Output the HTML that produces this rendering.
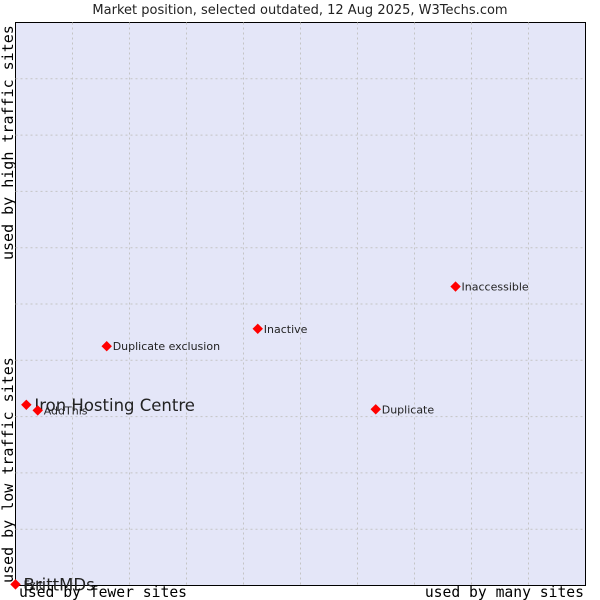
<!DOCTYPE html>
<html><head><meta charset="utf-8"><style>
body{margin:0;background:#fff;}
svg{display:block;}
</style></head><body>
<svg width="600" height="600" xmlns="http://www.w3.org/2000/svg">
<text x="300" y="14" text-anchor="middle" font-family="DejaVu Sans, Liberation Sans, sans-serif" font-size="13" fill="#222">Market position, selected outdated, 12 Aug 2025, W3Techs.com</text>
<rect x="15.5" y="22.5" width="570" height="563" fill="#e4e6f8" stroke="#000"/>
<g id="grid"></g>
<g id="marks"></g>
<text x="19" y="597" font-family="DejaVu Sans Mono, Liberation Mono, monospace" font-size="14.7" fill="#000">used by fewer sites</text>
<text x="584" y="597" text-anchor="end" font-family="DejaVu Sans Mono, Liberation Mono, monospace" font-size="14.7" fill="#000">used by many sites</text>
<text transform="translate(13,583) rotate(-90)" font-family="DejaVu Sans Mono, Liberation Mono, monospace" font-size="15" fill="#000">used by low traffic sites</text>
<text transform="translate(13,260) rotate(-90)" font-family="DejaVu Sans Mono, Liberation Mono, monospace" font-size="15" fill="#000">used by high traffic sites</text>
</svg>
<script>
const names=["Iron Hosting Centre","AddThis","Duplicate exclusion","Inactive","Inaccessible","Duplicate","BrittMDs"];
const xs=[1.9,3.9,16,42.5,77.2,63.2,0];
const ys=[32.1,31.1,42.5,45.6,53.1,31.3,0.2];
const sizes=[16.5,11,11,11,11,11,16.5];
const L=15.5,T=22.5,W=570,H=563;
const sx=v=>L+v/100*W, sy=v=>T+H-v/100*H;
const NS="http://www.w3.org/2000/svg";
const g=document.getElementById('grid'), m=document.getElementById('marks');
for(let i=1;i<10;i++){
 const a=document.createElementNS(NS,'line');
 
 
 a.setAttribute('x1',sx(i*10));a.setAttribute('x2',sx(i*10));a.setAttribute('y1',T);a.setAttribute('y2',T+H);
 a.setAttribute('stroke','#c4c4c4');a.setAttribute('stroke-dasharray','2,3');g.appendChild(a);
 const b=document.createElementNS(NS,'line');
 
 
 b.setAttribute('y1',sy(i*10));b.setAttribute('y2',sy(i*10));b.setAttribute('x1',L);b.setAttribute('x2',L+W);
 b.setAttribute('stroke','#c4c4c4');b.setAttribute('stroke-dasharray','2,3');g.appendChild(b);
}
names.forEach((n,i)=>{
 const x=sx(xs[i]),y=sy(ys[i]);
 const p=document.createElementNS(NS,'path');
 
 
 p.setAttribute('d',`M${x-4.5},${y}L${x},${y-4.5}L${x+4.5},${y}L${x},${y+4.5}Z`);
 p.setAttribute('fill','#ff0000');p.setAttribute('stroke','#ff0000');m.appendChild(p);
 const t=document.createElementNS(NS,'text');
 
 
 t.setAttribute('x',x+(sizes[i]>12?8:6));t.setAttribute('y',y+(sizes[i]>12?6:4));
 t.setAttribute('font-family','DejaVu Sans, Liberation Sans, sans-serif');
 t.setAttribute('font-size',sizes[i]);t.setAttribute('fill','#222');
 t.textContent=n;m.appendChild(t);
});
const f=document.createElementNS(NS,'text');


f.setAttribute('x',sx(0)+8);f.setAttribute('y',sy(0.2)+4);
f.setAttribute('font-family','DejaVu Sans, Liberation Sans, sans-serif');
f.setAttribute('font-size',11);f.setAttribute('fill','#222');
f.textContent='Fzit';m.appendChild(f);
</script>
</body></html>
